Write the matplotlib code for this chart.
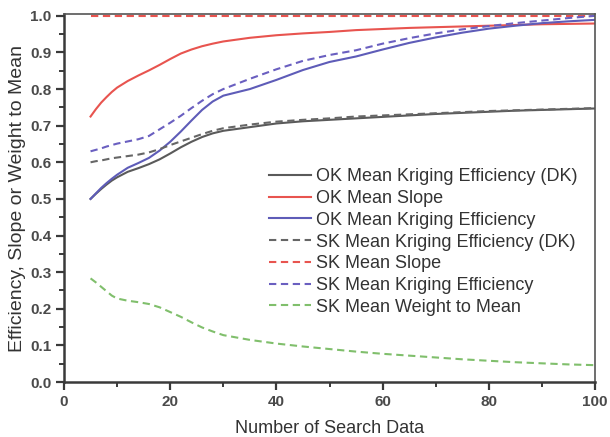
import matplotlib
matplotlib.use('Agg')
import matplotlib.pyplot as plt
from matplotlib.ticker import MultipleLocator

plt.rcParams['font.family'] = ['Liberation Sans', 'DejaVu Sans']

# number of search data
n = [5, 6, 7, 8, 9, 10, 12, 14, 16, 18, 20, 22, 24, 26, 28, 30,
     35, 40, 45, 50, 55, 60, 65, 70, 75, 80, 85, 90, 95, 100]

ok_eff_dk = [0.500, 0.514, 0.527, 0.539, 0.550, 0.559, 0.574, 0.584, 0.595, 0.608, 0.624, 0.641, 0.656, 0.669,
             0.679, 0.686, 0.696, 0.706, 0.712, 0.716, 0.720, 0.724, 0.728, 0.732, 0.735, 0.738, 0.741, 0.743,
             0.745, 0.747]
ok_slope = [0.725, 0.745, 0.763, 0.778, 0.792, 0.804, 0.822, 0.837, 0.851, 0.866, 0.882, 0.897, 0.908, 0.917,
            0.924, 0.930, 0.940, 0.947, 0.952, 0.956, 0.961, 0.964, 0.967, 0.969, 0.971, 0.973, 0.975, 0.977,
            0.978, 0.979]
ok_eff = [0.500, 0.515, 0.530, 0.543, 0.555, 0.566, 0.585, 0.598, 0.612, 0.632, 0.656, 0.684, 0.714, 0.743,
          0.766, 0.782, 0.800, 0.825, 0.852, 0.874, 0.889, 0.908, 0.926, 0.941, 0.954, 0.965, 0.973, 0.980,
          0.985, 0.989]
sk_eff_dk = [0.600, 0.603, 0.605, 0.608, 0.611, 0.613, 0.617, 0.621, 0.627, 0.636, 0.647, 0.657, 0.667, 0.677,
             0.686, 0.693, 0.703, 0.711, 0.716, 0.720, 0.725, 0.728, 0.731, 0.734, 0.737, 0.740, 0.742, 0.744,
             0.746, 0.748]
sk_slope = [1.0] * len(n)
sk_eff = [0.630, 0.634, 0.638, 0.643, 0.647, 0.651, 0.657, 0.663, 0.672, 0.690, 0.708, 0.727, 0.748, 0.768,
          0.786, 0.800, 0.828, 0.854, 0.877, 0.893, 0.906, 0.924, 0.939, 0.952, 0.963, 0.972, 0.980, 0.987,
          0.994, 1.000]
sk_wtm = [0.283, 0.272, 0.260, 0.248, 0.236, 0.228, 0.222, 0.218, 0.213, 0.204, 0.191, 0.178, 0.163, 0.149,
          0.138, 0.128, 0.115, 0.105, 0.097, 0.090, 0.083, 0.077, 0.072, 0.067, 0.062, 0.058, 0.054, 0.051,
          0.048, 0.046]

labels = ['OK Mean Kriging Efficiency (DK)', 'OK Mean Slope', 'OK Mean Kriging Efficiency',
          'SK Mean Kriging Efficiency (DK)', 'SK Mean Slope', 'SK Mean Kriging Efficiency',
          'SK Mean Weight to Mean']

series = [ok_eff_dk, ok_slope, ok_eff, sk_eff_dk, sk_slope, sk_eff, sk_wtm]
colors = ['#5a5a5a', '#e8544f', '#5e5cb8', '#666666', '#e8544f', '#6a5fc0', '#80bf6c']
dashed = [False, False, False, True, True, True, True]

fig = plt.figure(figsize=(6.1, 4.37), dpi=100)
ax = fig.add_axes([64 / 610, 1 - 382 / 437, 531 / 610, 368 / 437])

for yy, c, d, lab in zip(series, colors, dashed, labels):
    if d:
        ax.plot(n, yy, color=c, lw=1.5, dashes=(3.5, 2.2), label=lab)
    else:
        ax.plot(n, yy, color=c, lw=1.5, label=lab)

ax.set_xlim(0, 100)
ax.set_ylim(0, 1.005)
ax.xaxis.set_major_locator(MultipleLocator(20))
ax.xaxis.set_minor_locator(MultipleLocator(10))
ax.yaxis.set_major_locator(MultipleLocator(0.1))
ax.yaxis.set_minor_locator(MultipleLocator(0.05))
ax.yaxis.set_major_formatter(plt.FuncFormatter(lambda v, p: '%.1f' % v))

for s in ['left', 'bottom']:
    ax.spines[s].set_color('#3a3a3a')
    ax.spines[s].set_linewidth(1.8)
for s in ['top', 'right']:
    ax.spines[s].set_color('#555555')
    ax.spines[s].set_linewidth(1.2)

ax.tick_params(which='major', direction='out', length=6, width=1.6, color='#3a3a3a',
               labelsize=11, labelcolor='#4a4a4a', pad=3)
ax.tick_params(which='minor', direction='out', length=3.5, width=1.4, color='#3a3a3a')
for t in ax.get_xticklabels() + ax.get_yticklabels():
    t.set_fontweight('bold')

ax.set_xlabel('Number of Search Data', fontsize=13, color='#333333', labelpad=8)
ax.set_ylabel('Efficiency, Slope or Weight to Mean', fontsize=14, color='#333333', labelpad=3)

leg = ax.legend(loc='upper left', bbox_to_anchor=(0.373, 0.6), frameon=False, fontsize=13,
                handlelength=2.3, handletextpad=0.3, labelspacing=0.26, borderaxespad=0)
for t in leg.get_texts():
    t.set_color('#333333')

fig.savefig('out.png', dpi=100)
